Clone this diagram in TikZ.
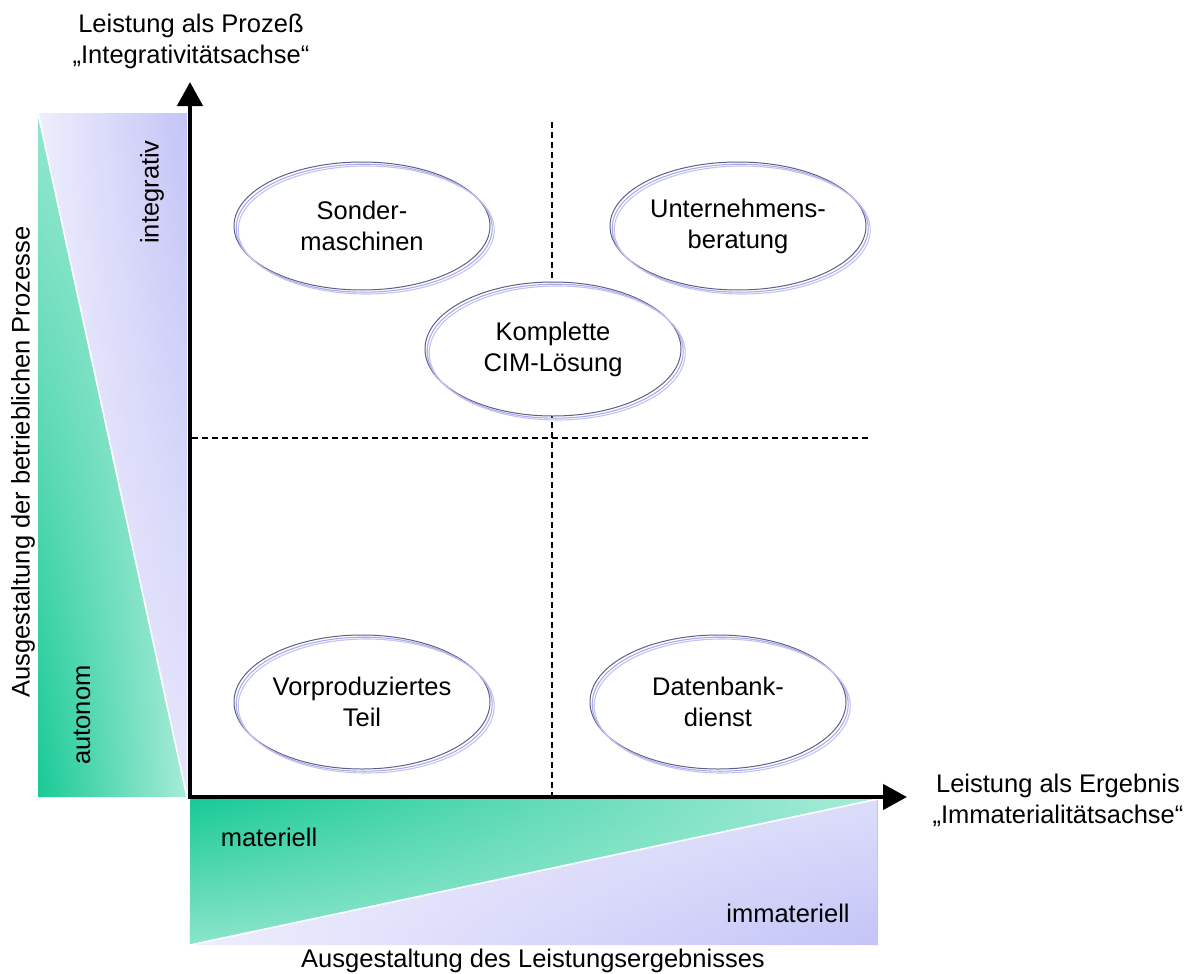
\documentclass[tikz,border=0pt]{standalone}
\usepackage{fontspec}
\setmainfont{Liberation Sans}
\usetikzlibrary{shapes.geometric,arrows.meta,fadings}
\definecolor{gdark}{RGB}{24,202,150}
\definecolor{glight}{RGB}{168,236,216}
\definecolor{plight}{RGB}{238,238,253}
\definecolor{pdark}{RGB}{196,196,248}
\definecolor{edark}{RGB}{95,95,130}
\definecolor{elav}{RGB}{170,170,238}
\newcommand\dfont{\fontsize{25.5}{31}\selectfont}
\begin{document}
\begin{tikzpicture}[x=1pt,y=-1pt,
  txt/.style={font=\dfont, inner sep=0pt, outer sep=0pt, align=center},
  ell/.style={ellipse, draw=edark, line width=1pt, fill=white,
    minimum width=256pt, minimum height=128pt, inner sep=0pt, outer sep=0pt,
    align=center, font=\dfont,
    postaction={draw=elav, line width=1.1pt, transform canvas={shift={(2.2pt,-2.2pt)}}},
    postaction={draw=elav!70, line width=1.1pt, transform canvas={shift={(4.2pt,-4pt)}}}},
  axisline/.style={line width=4.5pt, line join=miter,
    {Triangle[length=24pt,width=25pt]}-{Triangle[length=24pt,width=25pt]}},
  dashline/.style={dash pattern=on 6pt off 4pt, line width=1.3pt},
  sepline/.style={white, line width=1.6pt}]
\useasboundingbox (0,0) rectangle (1199,974);
% band corners
\coordinate (LTL) at (38,113);
\coordinate (LTR) at (187,113);
\coordinate (LBL) at (38,797);
\coordinate (LBR) at (187,797);
\coordinate (BTL) at (190,799);
\coordinate (BTR) at (878,799);
\coordinate (BBL) at (190,945);
\coordinate (BBR) at (878,945);
% left band
\shade[left color=gdark, right color=glight] (LTL) -- (LBL) -- (LBR) -- cycle;
\fill[glight, path fading=south, opacity=0.85] (LTL) -- (LBL) -- (LBR) -- cycle;
\shade[left color=plight, right color=pdark] (LTL) -- (LTR) -- (LBR) -- cycle;
\fill[plight, path fading=north, opacity=0.8] (LTL) -- (LTR) -- (LBR) -- cycle;
\draw[sepline] (LTL) -- (LBR);
% bottom band
\shade[left color=gdark, right color=glight] (BTL) -- (BTR) -- (BBL) -- cycle;
\fill[glight, path fading=north, opacity=0.8] (BTL) -- (BTR) -- (BBL) -- cycle;
\shade[left color=plight, right color=pdark] (BTR) -- (BBR) -- (BBL) -- cycle;
\fill[plight, path fading=south, opacity=0.6] (BTR) -- (BBR) -- (BBL) -- cycle;
\draw[sepline] (BBL) -- (BTR);
% dashed quadrant lines
\coordinate (VT) at (552,122);
\coordinate (VB) at (552,797);
\coordinate (HL) at (192,438);
\coordinate (HR) at (870,438);
\draw[dashline] (VT) -- (VB);
\draw[dashline] (HL) -- (HR);
% ellipses
\node[ell] (S) at (362,226) {Sonder-\\maschinen};
\node[ell] (U) at (738,226) {Unternehmens-\\beratung};
\node[ell, minimum height=134pt] (K) at (553,349) {Komplette\\CIM-Lösung};
\node[ell, minimum height=134pt] (V) at (362,702) {Vorproduziertes\\Teil};
\node[ell, minimum height=134pt] (D) at (718,702) {Datenbank-\\dienst};
% axes
\coordinate (O) at (190,797);
\coordinate (YT) at (190,82);
\coordinate (XT) at (907,797);
\draw[axisline] (YT) -- (O) -- (XT);
% labels
\node[txt] (ytitle) at (191,41) {Leistung als Prozeß\\„Integrativitätsachse“};
\node[txt] (xtitle) at (1058,800) {Leistung als Ergebnis\\„Immaterialitätsachse“};
\node[txt] (btitle) at (533,961) {Ausgestaltung des Leistungsergebnisses};
\node[txt, rotate=90] (ltitle) at (23,462) {Ausgestaltung der betrieblichen Prozesse};
\node[txt, rotate=90] (integ) at (152,192) {integrativ};
\node[txt, rotate=90] (auto) at (82,715) {autonom};
\node[txt] (mat) at (269,837) {materiell};
\node[txt] (immat) at (788,913) {immateriell};
\end{tikzpicture}
\end{document}
